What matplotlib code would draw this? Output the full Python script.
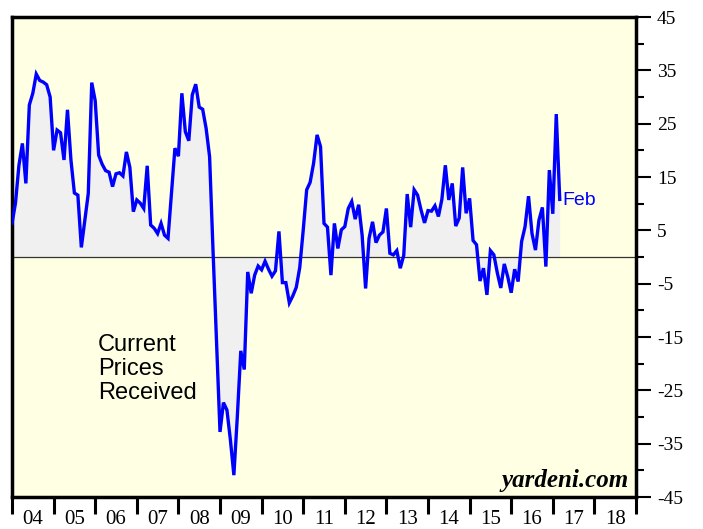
import matplotlib
matplotlib.use("Agg")
import matplotlib.pyplot as plt
import numpy as np

# Monthly values starting Jan 2004
values = [
    6.3, 10.1, 17.2, 21.3, 13.8, 28.5, 30.7, 34.3, 33.1, 32.8, 32.3, 30.0,
    20.0, 23.8, 23.3, 18.2, 27.6, 18.2, 12.0, 11.6, 1.8, 6.9, 11.9, 32.7,
    29.3, 19.1, 17.4, 16.2, 15.9, 13.2, 15.6, 15.8, 15.2, 19.7, 16.8, 8.5,
    10.7, 10.1, 9.1, 17.1, 6.0, 5.4, 4.4, 6.3, 4.1, 3.5, 12.0, 20.4,
    18.9, 30.7, 23.5, 21.8, 30.4, 32.4, 28.1, 27.7, 24.1, 18.8, 1.0, -16.0,
    -32.8, -27.3, -28.7, -34.3, -40.9, -29.9, -17.6, -21.1, -2.8, -6.8, -3.4, -1.7,
    -2.4, -0.8, -2.3, -3.6, -2.6, 4.8, -4.8, -4.8, -8.6, -7.3, -5.7, -2.0,
    5.0, 12.6, 14.0, 17.6, 22.9, 20.7, 6.3, 5.6, -3.4, 6.3, 1.6, 5.1,
    5.7, 9.1, 10.4, 7.1, 9.8, 4.1, -5.9, 3.5, 6.6, 2.7, 4.1, 4.7,
    9.1, 0.7, 0.4, 1.2, -2.1, 0.3, 11.8, 5.6, 12.6, 11.6, 8.8, 6.4,
    8.7, 8.6, 9.6, 7.6, 10.8, 17.2, 10.7, 13.8, 5.8, 7.3, 16.8, 8.2,
    11.0, 3.1, 2.3, -4.5, -2.1, -7.1, 1.2, 0.4, -3.0, -5.8, -1.3, -3.7,
    -6.7, -2.3, -4.6, 2.9, 5.7, 11.4, 4.4, 1.3, 6.9, 9.3, -1.8, 16.3,
    8.1, 26.8, 10.8,
]
start_year = 2004
year_labels = ["04", "05", "06", "07", "08", "09", "10", "11", "12",
               "13", "14", "15", "16", "17", "18"]
y_ticks = [45, 35, 25, 15, 5, -5, -15, -25, -35, -45]

t = start_year + np.arange(len(values)) / 12.0
v = np.array(values)

W, H = 703, 529
fig = plt.figure(figsize=(W / 100, H / 100), dpi=100)
fig.patch.set_facecolor("white")
ax = fig.add_axes([12 / W, (H - 497) / H, (636 - 12) / W, (497 - 17) / H])
ax.set_facecolor("#FFFFE3")

ax.fill_between(t, v, 0, color="#F0F0F0", linewidth=0, zorder=1)
ax.axhline(0, color="#333333", linewidth=0.9, zorder=2)
ax.plot(t, v, color="#0000FF", linewidth=2.4, zorder=3, solid_joinstyle="miter")

ax.set_xlim(2004, 2019)
ax.set_ylim(-45, 45)

for s in ax.spines.values():
    s.set_linewidth(2.5)
    s.set_color("black")

serif = ["Liberation Serif", "DejaVu Serif"]

# y axis on the right
ax.yaxis.tick_right()
ax.set_yticks(y_ticks)
ax.set_yticklabels([str(y) for y in y_ticks], fontsize=14, family=serif)
ax.set_yticks(np.arange(-40, 45, 10), minor=True)
ax.tick_params(axis="y", which="major", length=10.5, width=1.5, pad=4.5, direction="out")
ax.tick_params(axis="y", which="minor", length=5.5, width=1.5, direction="out")
ax.tick_params(axis="y", left=False, which="both")

# x axis: ticks at year boundaries, labels centered within years
years = np.arange(2004, 2020)
ax.set_xticks(years)
ax.set_xticklabels([])
ax.set_xticks(years[:-1] + 0.5, minor=True)
ax.set_xticklabels(year_labels, minor=True, fontsize=15, family=serif)
ax.tick_params(axis="x", which="major", length=12, width=2.2, direction="out")
ax.tick_params(axis="x", which="minor", length=0, pad=9)

ax.text(2006.07, -14.5, "Current\nPrices\nReceived", fontsize=17,
        family=["Liberation Sans", "DejaVu Sans"], va="top", ha="left",
        linespacing=1.12, color="black")
ax.text(t[-1] + 0.07, 10.6, "Feb", fontsize=14, color="#0000FF",
        family=["Liberation Sans", "DejaVu Sans"], va="center", ha="left")
ax.text(2018.83, -43.1, "yardeni.com", fontsize=18, style="italic",
        weight="bold", family=serif, ha="right", va="baseline", color="black")

fig.savefig("out.png", dpi=100)
